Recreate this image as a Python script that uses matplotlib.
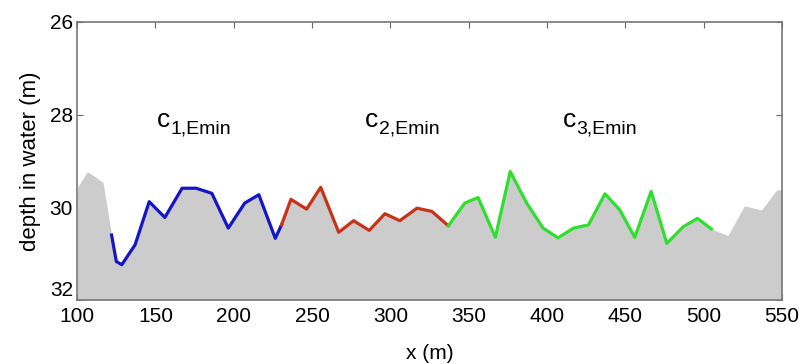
import matplotlib
matplotlib.use('Agg')
import matplotlib.pyplot as plt
import numpy as np

plt.rcParams['font.family'] = ['Liberation Sans', 'DejaVu Sans']

# seabed profile outside the three segments
lead_x = [100, 106.5, 116.5]
lead_y = [29.58, 29.23, 29.46]
tail_x = [515.5, 526, 537, 546.5, 550]
tail_y = [30.61, 29.97, 30.06, 29.63, 29.62]

# segment 1 (blue)
blue_x = [122, 125, 128.5, 137, 146, 156, 167, 176, 186, 196.5, 207, 216, 226.5, 230.5]
blue_y = [30.60, 31.17, 31.24, 30.81, 29.88, 30.22, 29.59, 29.59, 29.70, 30.45, 29.91, 29.73, 30.67, 30.38]

# segment 2 (red)
red_x = [230.5, 236.5, 246.5, 255.5, 267, 276.5, 286.5, 296.5, 306, 317, 326.5, 337]
red_y = [30.38, 29.83, 30.04, 29.57, 30.54, 30.29, 30.50, 30.14, 30.29, 30.02, 30.09, 30.40]

# segment 3 (green)
green_x = [337, 347.5, 356, 367, 376.5, 387, 397.5, 407, 417, 426.5, 437, 446.5, 456, 466.5, 476.5, 487, 496, 505]
green_y = [30.40, 29.91, 29.79, 30.65, 29.23, 29.91, 30.45, 30.66, 30.45, 30.38, 29.71, 30.06, 30.65, 29.66, 30.78, 30.42, 30.24, 30.47]

labels = ['1,Emin', '2,Emin', '3,Emin']
label_x = [151, 284, 410]
label_y = 28.27

prof_x = lead_x + blue_x + red_x[1:] + green_x[1:] + tail_x
prof_y = lead_y + blue_y + red_y[1:] + green_y[1:] + tail_y

fig = plt.figure(figsize=(8.12, 3.64), dpi=100)
ax = fig.add_axes([0.095, 0.176, 0.868, 0.764])
ax.set_axisbelow(True)

ax.fill_between(prof_x, prof_y, 32, color='#cccccc', linewidth=0, zorder=1)
ax.plot(blue_x, blue_y, color='#1414c8', lw=2.3, zorder=3)
ax.plot(red_x, red_y, color='#c83218', lw=2.3, zorder=3)
ax.plot(green_x, green_y, color='#2ee02e', lw=2.3, zorder=3)

for lx, lab in zip(label_x, labels):
    ax.text(lx, label_y, 'c', fontsize=19, ha='left', va='baseline', zorder=4)
    ax.annotate(lab, xy=(lx, label_y), xytext=(10, -5), textcoords='offset points',
                fontsize=14, ha='left', va='baseline', zorder=4)

ax.set_xlim(100, 550)
ax.set_ylim(32, 26)
ax.set_xticks(np.arange(100, 551, 50))
ax.set_yticks([26, 28, 30, 32])
ax.tick_params(direction='in', top=True, right=True, length=4, color='#666666',
               labelsize=15, pad=3)
ax.tick_params(axis='x', pad=5)
for s in ax.spines.values():
    s.set_color('#777777')
    s.set_linewidth(1.2)

# lowest y label sits above the corner, like the original
fig.canvas.draw()
for t in ax.get_yticklabels():
    if t.get_text() == '32':
        t.set_verticalalignment('bottom')

ax.set_xlabel('x (m)', fontsize=15, labelpad=13)
ax.set_ylabel('depth in water (m)', fontsize=16, labelpad=6)

fig.savefig('out.png', dpi=100)
